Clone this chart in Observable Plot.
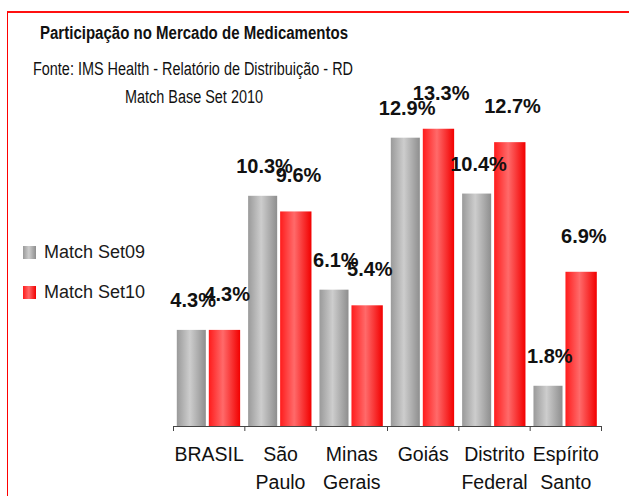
<!DOCTYPE html>
<html>
<head>
<meta charset="utf-8">
<script src="https://cdn.jsdelivr.net/npm/d3@7"></script>
<script src="https://cdn.jsdelivr.net/npm/@observablehq/plot@0.6"></script>
<style>
  body { margin: 0; background: #fff; }
  #wrap { position: relative; width: 629px; height: 496px; overflow: hidden; font-family: "Liberation Sans", Arial, sans-serif; }
  #chart { position: absolute; left: 0; top: 0; }
  #frame { position: absolute; left: 7px; top: 11px; width: 700px; height: 600px; border-left: 1px solid #ff0000; border-top: 2px solid #ff1010; pointer-events: none; }
  .t { position: absolute; white-space: nowrap; transform-origin: 0 0; color: #111; font-size: 18px; line-height: 18px; }
  .sw { position: absolute; width: 13px; height: 13px; }
  .lg { position: absolute; white-space: nowrap; color: #1a1a1a; font-size: 18px; line-height: 18px; }
</style>
</head>
<body>
<div id="wrap">
  <div id="chart"></div>
  <div class="t" id="title" style="left:40px; top:24px; font-weight:bold;" data-w="308">Participação no Mercado de Medicamentos</div>
  <div class="t" id="src" style="left:33px; top:60px;" data-w="320">Fonte: IMS Health - Relatório de Distribuição - RD</div>
  <div class="t" id="sub" style="left:125px; top:88px;" data-w="138">Match Base Set 2010</div>
  <div id="legend"></div>
  <div id="frame"></div>
</div>
<script>
// ---- data ----
const categories = ["BRASIL", "São Paulo", "Minas Gerais", "Goiás", "Distrito Federal", "Espírito Santo"];
const categoryLabels = ["BRASIL", "São\nPaulo", "Minas\nGerais", "Goiás", "Distrito\nFederal", "Espírito\nSanto"];
const seriesNames = ["Match Set09", "Match Set10"];
const set09 = [4.3, 10.3, 6.1, 12.9, 10.4, 1.8];
const set10 = [4.3, 9.6, 5.4, 13.3, 12.7, 6.9];

const rows09 = categories.map((c, i) => ({cat: c, series: seriesNames[0], value: set09[i]}));
const rows10 = categories.map((c, i) => ({cat: c, series: seriesNames[1], value: set10[i]}));

// ---- layout ----
const W = 629, H = 496;
const baseY = 426, pxPerUnit = 22.35, yMax = 14;
const mLeft = 173, mRight = 28;
const bw = (W - mLeft - mRight) / categories.length;

const grad = {
  g09: [["0", "#9a9a9a"], ["0.45", "#cdcdcd"], ["1", "#8e8e8e"]],
  g10: [["0", "#ff1c1c"], ["0.45", "#ff6a6a"], ["1", "#f20000"]]
};

const defsMark = () => {
  const defs = d3.create("svg:defs");
  for (const [id, stops] of Object.entries(grad)) {
    const lg = defs.append("linearGradient").attr("id", id)
      .attr("x1", 0).attr("x2", 1).attr("y1", 0).attr("y2", 0);
    for (const [o, c] of stops) lg.append("stop").attr("offset", o).attr("stop-color", c);
  }
  return defs.node();
};

const fmt = v => v.toFixed(1) + "%";

const chart = Plot.plot({
  width: W,
  height: H,
  marginLeft: mLeft,
  marginRight: mRight,
  marginTop: baseY - yMax * pxPerUnit,
  marginBottom: H - baseY,
  style: {background: "transparent", fontFamily: "'Liberation Sans', Arial, sans-serif", overflow: "visible"},
  x: {type: "band", domain: categories, padding: 0, round: false, axis: null},
  y: {domain: [0, yMax], axis: null},
  marks: [
    defsMark,
    Plot.barY(rows09, {x: "cat", y: "value", fill: "url(#g09)", insetLeft: 3.8, insetRight: 38.5}),
    Plot.barY(rows10, {x: "cat", y: "value", fill: "url(#g10)", insetLeft: 35.8, insetRight: 4.2}),
    Plot.ruleY([0], {stroke: "#454545", strokeWidth: 1}),
    Plot.ruleX(categories, {x: d => d, y1: d => 0, y2: d => 0, insetBottom: -5, dx: -bw / 2, stroke: "#454545"}),
    Plot.ruleX(categories.slice(-1), {x: d => d, y1: d => 0, y2: d => 0, insetBottom: -5, dx: bw / 2, stroke: "#454545"}),
    Plot.text(rows09, {x: "cat", y: "value", text: d => fmt(d.value), dx: -16, dy: -29.5, fontSize: 20, fontWeight: "bold", fill: "#111"}),
    Plot.text(rows10, {x: "cat", y: "value", text: d => fmt(d.value), dx: 18, dy: -36, fontSize: 20, fontWeight: "bold", fill: "#111"}),
    Plot.text(categories, {x: d => d, y: d => 0, text: (d, i) => categoryLabels[i], lineAnchor: "top", dy: 15.5, lineHeight: 1.4, fontSize: 19.5, fill: "#111"})
  ]
});
document.getElementById("chart").appendChild(chart);

// legend
const legend = document.getElementById("legend");
const swGrad = {
  "Match Set09": "linear-gradient(to right, #9a9a9a, #cdcdcd 45%, #8e8e8e)",
  "Match Set10": "linear-gradient(to right, #ff1c1c, #ff6a6a 45%, #f20000)"
};
seriesNames.forEach((s, i) => {
  const y = 246 + i * 40;
  const sw = document.createElement("div");
  sw.className = "sw";
  sw.style.left = "23px"; sw.style.top = y + "px";
  sw.style.background = swGrad[s];
  legend.appendChild(sw);
  const t = document.createElement("div");
  t.className = "lg";
  t.style.left = "44px"; t.style.top = (y - 3) + "px";
  t.textContent = s;
  legend.appendChild(t);
});

// condense header texts to the reference widths
document.querySelectorAll(".t").forEach(el => {
  const target = +el.dataset.w;
  const w = el.getBoundingClientRect().width;
  if (w > 0) el.style.transform = `scaleX(${target / w})`;
});
</script>
</body>
</html>
